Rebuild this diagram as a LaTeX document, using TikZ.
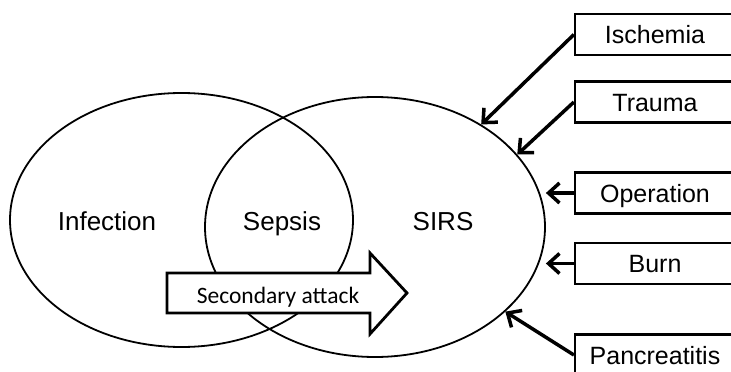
\documentclass[tikz,border=0pt]{standalone}
\usepackage{fontspec}
\setmainfont{Liberation Sans}
\newfontfamily\calib{Carlito}
\usetikzlibrary{shapes.geometric,arrows.meta}
\begin{document}
\begin{tikzpicture}[x=1pt,y=-1pt,
  venn/.style={ellipse, draw, line width=1.8pt, inner sep=0pt},
  causebox/.style={draw, line width=2.2pt, minimum width=160pt, minimum height=41pt,
    inner sep=0pt, text height=18pt, text depth=0pt, font=\fontsize{25}{29}\selectfont},
  cause/.style={line width=3.5pt, -{Straight Barb[length=11pt,width=20pt]}},
  lbl/.style={anchor=base, font=\fontsize{26}{30}\selectfont},
  bigarrow/.style={draw, line width=2.8pt, fill=white, line join=miter}]
\useasboundingbox (0,0) rectangle (731,372);
\clip (0,0) rectangle (731,372);

% Venn ellipses
\node[venn, minimum width=343pt, minimum height=254pt] (inf) at (181.5,220) {};
\node[venn, minimum width=340pt, minimum height=260pt] (sirs) at (375,227) {};

% labels
\node[lbl] (tinf) at (107,230) {Infection};
\node[lbl] (tsep) at (282,230) {Sepsis};
\node[lbl] (tsirs) at (443,230) {SIRS};

% secondary attack block arrow
\draw[bigarrow] (167,273) -- (370,273) -- (370,253) -- (407,293) -- (370,334)
  -- (370,313) -- (167,313) -- cycle;
\node[anchor=base, font=\calib\fontsize{23.5}{27}\selectfont] (sec) at (278,303) {Secondary attack};

% cause boxes
\node[causebox] (isch) at (655,34.5) {Ischemia};
\node[causebox] (trau) at (655,102) {Trauma};
\node[causebox] (oper) at (655,193) {Operation};
\node[causebox] (burn) at (655,263.5) {Burn};
\node[causebox] (panc) at (655,355) {Pancreatitis};

% cause arrows
\draw[cause] (isch.west) -- (sirs.44);
\draw[cause] (trau.west) -- (sirs.27);
\draw[cause] (oper.west) -- (sirs.east |- oper.west);
\draw[cause] (burn.west) -- (sirs.east |- burn.west);
\draw[cause] (panc.west) -- (sirs.-33);
\end{tikzpicture}
\end{document}
